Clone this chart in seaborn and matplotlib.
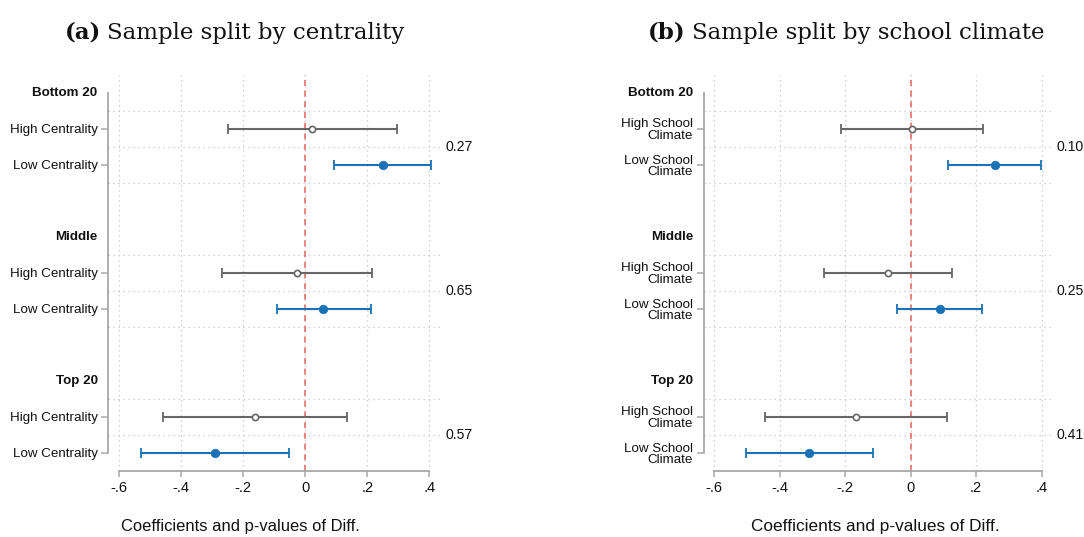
import numpy as np
import pandas as pd
import matplotlib
matplotlib.use("Agg")
import matplotlib.pyplot as plt
import seaborn as sns

# ---------------- data ----------------
groups = ["Bottom 20", "Middle", "Top 20"]
a_sub_labels = ["High Centrality", "Low Centrality"]
b_sub_labels = ["High School\nClimate", "Low School\nClimate"]

a_high_est = [0.023, -0.027, -0.163]
a_high_lo = [-0.249, -0.270, -0.460]
a_high_hi = [0.296, 0.216, 0.135]
a_low_est = [0.249, 0.058, -0.291]
a_low_lo = [0.092, -0.092, -0.529]
a_low_hi = [0.407, 0.211, -0.053]
a_pvals = ["0.27", "0.65", "0.57"]

b_high_est = [0.005, -0.069, -0.166]
b_high_lo = [-0.212, -0.264, -0.444]
b_high_hi = [0.222, 0.125, 0.112]
b_low_est = [0.257, 0.089, -0.311]
b_low_lo = [0.115, -0.042, -0.504]
b_low_hi = [0.398, 0.219, -0.116]
b_pvals = ["0.10", "0.25", "0.41"]

xticks = [-0.6, -0.4, -0.2, 0.0, 0.2, 0.4]
xtick_labels = ["-.6", "-.4", "-.2", "0", ".2", ".4"]

titles_bold = ["(a)", "(b)"]
titles_rest = ["Sample split by centrality", "Sample split by school climate"]
xlabel_text = "Coefficients and p-values of Diff."

# ---------------- style ----------------
sns.set_theme(style="white")
plt.rcParams["font.family"] = ["Liberation Sans", "DejaVu Sans"]

GRAY = "#666666"
BLUE = "#1a72b4"
SPINE = "#a8a8a8"
GRID = "#c4c4c4"
RED = "#e8645e"
FS = 9.6
TXT = "#111111"

W, H = 1084, 537
fig = plt.figure(figsize=(W / 100, H / 100), dpi=100)


def build(high_est, high_lo, high_hi, low_est, low_lo, low_hi):
    recs = []
    for g in range(len(groups)):
        recs.append(dict(row=4 * g + 1, est=high_est[g], lo=high_lo[g], hi=high_hi[g], kind="High"))
        recs.append(dict(row=4 * g + 2, est=low_est[g], lo=low_lo[g], hi=low_hi[g], kind="Low"))
    return pd.DataFrame(recs)


def panel(rect, df, sub_labels, pvals, xlim, tick_len_pt, pad_pt):
    ax = fig.add_axes(rect)
    nrows = 4 * len(groups) - 1
    # CIs
    for kind, col in [("High", GRAY), ("Low", BLUE)]:
        d = df[df.kind == kind]
        ax.errorbar(d.est, d.row, xerr=[d.est - d.lo, d.hi - d.est], fmt="none",
                    ecolor=col, elinewidth=1.5, capsize=3.6, capthick=1.3, zorder=3)
    # point estimates
    dh = df[df.kind == "High"]
    dl = df[df.kind == "Low"]
    sns.scatterplot(data=dh, x="est", y="row", ax=ax, marker="o", s=20,
                    facecolor="white", edgecolor=GRAY, linewidth=1.2, zorder=4, legend=False)
    sns.scatterplot(data=dl, x="est", y="row", ax=ax, marker="o", s=38,
                    color=BLUE, edgecolor=BLUE, linewidth=0.5, zorder=4, legend=False)

    ax.axvline(0, color=RED, lw=1.1, ls=(0, (4, 3)), zorder=2)

    ax.set_xlim(*xlim)
    ax.set_ylim(nrows - 0.5, -0.5)

    # y labels: data rows get ticks; group headers are bold text without ticks
    data_rows = list(df.row)
    data_labels = [sub_labels[(r % 4) - 1] for r in data_rows]
    ax.set_yticks(data_rows)
    ax.set_yticklabels(data_labels, fontsize=FS, color=TXT)
    for t in ax.get_yticklabels():
        t.set_linespacing(0.95)
    ax.tick_params(axis="y", which="major", length=tick_len_pt, width=1.1, color=SPINE,
                   pad=pad_pt, direction="out", left=True)
    for g, name in enumerate(groups):
        ax.annotate(name, xy=(0.0, 4 * g), xycoords=("axes fraction", "data"),
                    xytext=(-(tick_len_pt + pad_pt), 0), textcoords="offset points",
                    ha="right", va="center", fontsize=FS, fontweight="bold", color=TXT,
                    annotation_clip=False)

    minor = [r - 0.5 for r in range(nrows) if r % 4 in (1, 2, 3)]
    ax.set_yticks(minor, minor=True)
    ax.tick_params(axis="y", which="minor", length=0)

    ax.set_xticks(xticks)
    ax.set_xticklabels(xtick_labels, fontsize=FS + 0.9, color=TXT)
    ax.tick_params(axis="x", length=4, width=1.1, color=SPINE, pad=3.0, direction="out", bottom=True)

    ax.grid(True, axis="x", which="major", color=GRID, ls=(0, (1, 3)), lw=0.9)
    ax.grid(True, axis="y", which="minor", color=GRID, ls=(0, (1, 3)), lw=0.9)
    ax.grid(False, axis="y", which="major")
    ax.set_axisbelow(True)

    for s in ["top", "right"]:
        ax.spines[s].set_visible(False)
    for s in ["left", "bottom"]:
        ax.spines[s].set_color(SPINE)
        ax.spines[s].set_linewidth(1.3)
    ax.spines["left"].set_bounds(0, nrows - 1)
    ax.spines["bottom"].set_bounds(xticks[0], xticks[-1])

    ax.set_xlabel("")
    ax.set_ylabel("")

    for g, p in enumerate(pvals):
        ax.annotate(p, xy=(1.0, 4 * g + 1.5), xycoords=("axes fraction", "data"),
                    xytext=(3, 0), textcoords="offset points", ha="left", va="center",
                    fontsize=FS + 0.5, color=TXT, annotation_clip=False)
    return ax


def px(x0, y0, x1, y1):
    return [x0 / W, 1 - y1 / H, (x1 - x0) / W, (y1 - y0) / H]


df_a = build(a_high_est, a_high_lo, a_high_hi, a_low_est, a_low_lo, a_low_hi)
df_b = build(b_high_est, b_high_lo, b_high_hi, b_low_est, b_low_lo, b_low_hi)

ax_a = panel(px(108, 75, 441, 471), df_a, a_sub_labels, a_pvals, (-0.6365, 0.4377), 5.0, 2.5)
ax_b = panel(px(704, 75, 1052, 471), df_b, b_sub_labels, b_pvals, (-0.6315, 0.4317), 5.0, 3.0)

# x labels
fig.text(240 / W, 1 - 526 / H, xlabel_text, ha="center", va="center", fontsize=11.9, color=TXT)
fig.text(875 / W, 1 - 526 / H, xlabel_text, ha="center", va="center", fontsize=12.4, color=TXT)

# titles
renderer = fig.canvas.get_renderer()
serif = ["DejaVu Serif"]
for x0, tb, tr in zip([65, 648], titles_bold, titles_rest):
    t1 = fig.text(x0 / W, 1 - 39 / H, tb, ha="left", va="baseline", fontsize=16.5,
                  fontweight="bold", family=serif, color=TXT)
    bb = t1.get_window_extent(renderer)
    fig.text((bb.x1 + 6) / W, 1 - 39 / H, tr, ha="left", va="baseline", fontsize=16.5,
             family=serif, color=TXT)

fig.savefig("out.png", dpi=100)
